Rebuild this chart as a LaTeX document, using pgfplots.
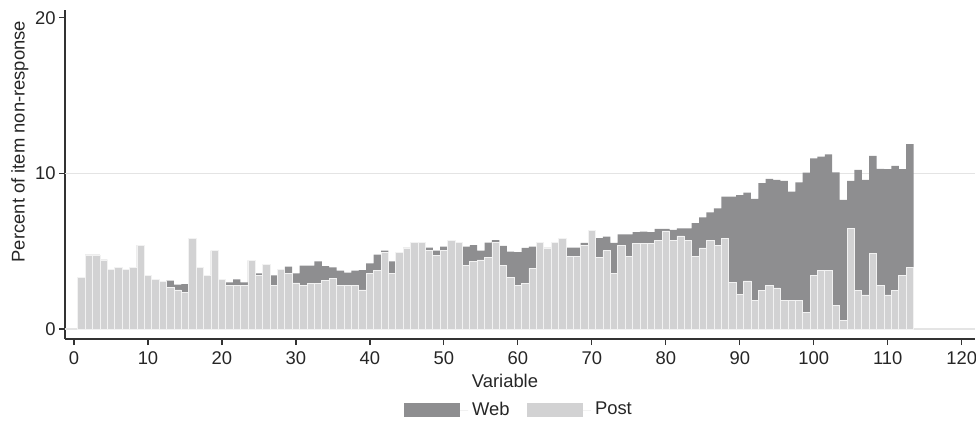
\documentclass[border=0pt]{standalone}
\usepackage{fontspec}
\setmainfont{Liberation Sans}
\usepackage{pgfplots}
\usepackage{pgfplotstable}
\pgfplotsset{compat=1.18}
\definecolor{webc}{HTML}{8E8E90}
\definecolor{postc}{HTML}{D2D2D3}
\definecolor{gridc}{HTML}{E4E4E4}
\definecolor{axc}{HTML}{333333}
\pgfplotsset{boxlegend/.style={legend image code/.code={\path[##1, draw=none] (0pt,-3.5pt) rectangle (28pt,3.5pt);\path (28pt,0pt) -- (32pt,0pt);}}}

\pgfplotstableread{
n web post
1 3.32 3.32
2 4.76 4.76
3 4.76 4.76
4 4.44 4.44
5 3.84 3.84
6 3.97 3.97
7 3.84 3.84
8 3.97 3.97
9 5.40 5.40
10 3.45 3.45
11 3.17 3.17
12 3.04 3.04
13 3.11 2.68
14 2.85 2.51
15 2.89 2.34
16 5.83 5.83
17 3.97 3.97
18 3.45 3.45
19 5.04 5.04
20 3.17 3.17
21 3.00 2.81
22 3.19 2.81
23 3.00 2.81
24 4.42 4.42
25 3.58 3.43
26 4.14 4.14
27 3.45 2.81
28 3.82 3.82
29 4.01 3.56
30 3.58 2.96
31 4.07 2.81
32 4.07 2.94
33 4.35 2.94
34 4.05 3.11
35 3.97 3.26
36 3.75 2.81
37 3.62 2.81
38 3.75 2.81
39 3.79 2.51
40 4.22 3.58
41 4.78 3.79
42 5.04 4.95
43 4.35 3.58
44 4.95 4.95
45 5.21 5.21
46 5.57 5.57
47 5.57 5.57
48 5.23 5.06
49 5.04 4.74
50 5.29 5.06
51 5.72 5.72
52 5.57 5.57
53 5.29 4.09
54 5.40 4.35
55 5.04 4.44
56 5.55 4.61
57 5.72 5.57
58 5.34 4.07
59 4.97 3.30
60 4.95 2.78
61 5.21 2.94
62 5.29 3.92
63 5.57 5.57
64 5.21 5.21
65 5.57 5.57
66 5.83 5.83
67 5.23 4.69
68 5.23 4.69
69 5.53 5.40
70 6.35 6.35
71 5.85 4.61
72 5.94 5.04
73 5.53 3.58
74 6.09 5.38
75 6.09 4.69
76 6.22 5.51
77 6.26 5.51
78 6.22 5.51
79 6.43 5.72
80 6.43 6.30
81 6.37 5.68
82 6.47 5.98
83 6.47 5.68
84 6.80 4.69
85 7.18 5.21
86 7.50 5.68
87 7.76 5.38
88 8.51 5.81
89 8.51 2.98
90 8.60 2.21
91 8.77 3.09
92 8.36 1.86
93 9.37 2.47
94 9.65 2.81
95 9.58 2.64
96 9.52 1.86
97 8.83 1.86
98 9.43 1.86
99 10.05 1.07
100 10.97 3.43
101 11.08 3.75
102 11.23 3.75
103 10.07 1.54
104 8.30 0.58
105 9.52 6.47
106 10.23 2.47
107 9.58 2.19
108 11.13 4.87
109 10.29 2.79
110 10.27 2.19
111 10.48 2.47
112 10.27 3.43
113 11.88 3.94
}\datatable

\begin{document}
\begin{tikzpicture}[font=\fontsize{9.2}{11}\selectfont]
\useasboundingbox (0,0) rectangle (488pt,212.5pt);
\begin{axis}[
  at={(32.5pt,43pt)}, anchor=south west,
  scale only axis, width=455pt, height=164.5pt,
  xmin=-1.22, xmax=121.8, ymin=-0.64, ymax=20.5,
  axis lines*=left,
  axis line style={axc, line width=0.6pt},
  xtick={0,10,...,120}, ytick={0,10,20},
  tick align=outside, major tick length=3pt,
  tick style={axc, line width=0.6pt},
  minor tick num=0,
  extra y ticks={0,10}, extra y tick labels={},
  extra y tick style={grid=major, major grid style={gridc, line width=0.7pt}, major tick length=0pt},
  /pgf/number format/assume math mode=true,
  tick label style={text=black!85},
  yticklabel style={inner sep=1.5pt},
  xlabel={Variable}, ylabel={Percent of item non-response},
  xlabel style={at={(axis description cs:0.4835,-0.128)}, anchor=center, text=black!85},
  ylabel style={at={(axis description cs:-0.0495,0.60)}, anchor=center, text=black!85},
  legend style={at={(axis description cs:0.5,-0.216)}, anchor=center, draw=none, fill=none,
    legend columns=2, /tikz/every even column/.append style={column sep=6.5pt},
    text=black!85},
  clip=true,
]
\addplot[ybar, bar width=1, bar shift=0pt, fill=webc, draw=none, boxlegend]
  table[x=n, y=web]{\datatable};
\addlegendentry{Web}
\addplot[ybar, bar width=1, bar shift=0pt, fill=postc, draw=white!70!postc, line width=0.35pt, boxlegend]
  table[x=n, y=post]{\datatable};
\addlegendentry{Post}
\end{axis}
\end{tikzpicture}
\end{document}
